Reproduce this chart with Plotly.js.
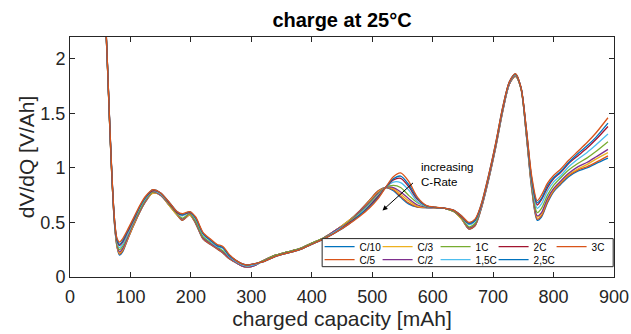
<!DOCTYPE html>
<html>
<head>
<meta charset="utf-8">
<script src="https://cdn.plot.ly/plotly-3.0.1.min.js"></script>
<style>html,body{margin:0;padding:0;background:#fff;}#chart{width:631px;height:334px;}</style>
</head>
<body>
<div id="chart"></div>
<script>
// charged capacity [mAh]
const capacity = [
  57,60,63,66,69,72,75,78,82,87,
  95,105,115,125,137,150,165,177,186,198,
  208,220,232,243,253,263,275,285,293,303,
  320,340,360,380,400,420,440,460,480,495,
  510,522,535,547,560,575,590,605,620,635,
  648,660,670,680,692,704,716,727,737,746,
  755,764,773,780,790,800,812,825,840,855,
  870,890];

const rateLabels = ['C/10','C/5','C/3','C/2','1C','1,5C','2C','2,5C','3C'];
const rateColors = ['#0072BD','#D95319','#EDB120','#7E2F8E','#77AC30','#4DBEEE','#A2142F','#0072BD','#D95319'];
// legend row of each entry (row 1: C/10, C/3, 1C, 2C, 3C; row 2: C/5, C/2, 1,5C, 2,5C)
const legendRow = ['legend','legend2','legend','legend2','legend','legend2','legend','legend2','legend'];

// dV/dQ [V/Ah]
const dvdq_C10 = [
  2.50,2.20,1.78,1.34,0.95,0.62,0.40,0.27,0.20,0.23,
  0.34,0.47,0.59,0.69,0.77,0.75,0.65,0.57,0.52,0.57,
  0.49,0.35,0.30,0.26,0.22,0.17,0.13,0.10,0.09,0.10,
  0.15,0.20,0.23,0.26,0.31,0.36,0.43,0.51,0.61,0.70,
  0.79,0.82,0.79,0.73,0.67,0.64,0.635,0.635,0.63,0.60,
  0.53,0.44,0.47,0.62,0.88,1.18,1.52,1.77,1.84,1.73,
  1.30,0.80,0.52,0.55,0.68,0.78,0.85,0.92,0.97,1.00,
  1.04,1.09];
const dvdq_C5 = [
  2.50,2.20,1.78,1.34,0.95,0.62,0.40,0.27,0.21,0.24,
  0.34,0.47,0.59,0.69,0.77,0.75,0.65,0.57,0.52,0.57,
  0.49,0.35,0.30,0.26,0.22,0.17,0.13,0.10,0.09,0.10,
  0.15,0.20,0.23,0.26,0.31,0.36,0.43,0.51,0.61,0.70,
  0.79,0.82,0.80,0.74,0.68,0.64,0.636,0.635,0.63,0.60,
  0.53,0.44,0.47,0.62,0.88,1.18,1.52,1.77,1.84,1.73,
  1.30,0.81,0.53,0.56,0.69,0.79,0.86,0.93,0.98,1.01,
  1.05,1.11];
const dvdq_C3 = [
  2.50,2.20,1.78,1.34,0.95,0.63,0.41,0.28,0.22,0.25,
  0.35,0.48,0.60,0.70,0.77,0.75,0.65,0.57,0.53,0.57,
  0.50,0.36,0.31,0.27,0.23,0.18,0.13,0.10,0.09,0.10,
  0.15,0.20,0.23,0.26,0.31,0.36,0.43,0.51,0.60,0.69,
  0.78,0.82,0.81,0.76,0.70,0.65,0.638,0.636,0.63,0.60,
  0.53,0.45,0.48,0.63,0.89,1.19,1.53,1.77,1.84,1.73,
  1.31,0.82,0.55,0.58,0.71,0.80,0.87,0.94,0.99,1.03,
  1.08,1.14];
const dvdq_C2 = [
  2.50,2.20,1.78,1.35,0.96,0.63,0.41,0.29,0.23,0.26,
  0.36,0.49,0.60,0.70,0.78,0.75,0.66,0.58,0.53,0.58,
  0.50,0.36,0.31,0.27,0.23,0.18,0.13,0.10,0.09,0.10,
  0.15,0.20,0.23,0.26,0.31,0.36,0.43,0.50,0.60,0.68,
  0.77,0.82,0.82,0.78,0.72,0.66,0.639,0.636,0.63,0.60,
  0.54,0.45,0.48,0.63,0.89,1.19,1.53,1.77,1.845,1.73,
  1.31,0.83,0.56,0.59,0.72,0.81,0.88,0.95,1.01,1.05,
  1.10,1.17];
const dvdq_1C = [
  2.50,2.21,1.79,1.35,0.96,0.64,0.42,0.30,0.25,0.28,
  0.38,0.50,0.61,0.71,0.78,0.76,0.66,0.58,0.54,0.58,
  0.51,0.37,0.32,0.28,0.24,0.19,0.14,0.11,0.10,0.11,
  0.15,0.20,0.23,0.26,0.31,0.36,0.42,0.50,0.59,0.67,
  0.76,0.82,0.84,0.82,0.75,0.68,0.643,0.637,0.63,0.60,
  0.54,0.46,0.49,0.64,0.90,1.20,1.54,1.78,1.85,1.73,
  1.32,0.85,0.59,0.63,0.75,0.84,0.91,0.98,1.04,1.09,
  1.15,1.24];
const dvdq_1_5C = [
  2.50,2.21,1.79,1.36,0.97,0.64,0.43,0.32,0.27,0.30,
  0.39,0.51,0.63,0.72,0.79,0.76,0.67,0.59,0.56,0.59,
  0.53,0.39,0.33,0.28,0.26,0.19,0.14,0.11,0.10,0.11,
  0.14,0.19,0.22,0.25,0.30,0.35,0.42,0.49,0.58,0.66,
  0.75,0.82,0.87,0.865,0.80,0.69,0.647,0.638,0.63,0.61,
  0.55,0.48,0.51,0.64,0.90,1.20,1.54,1.78,1.855,1.74,
  1.34,0.87,0.63,0.67,0.79,0.87,0.93,1.01,1.08,1.14,
  1.21,1.31];
const dvdq_2C = [
  2.50,2.22,1.80,1.36,0.97,0.65,0.44,0.33,0.29,0.32,
  0.41,0.52,0.64,0.73,0.79,0.77,0.67,0.59,0.57,0.59,
  0.54,0.40,0.34,0.29,0.27,0.20,0.15,0.12,0.11,0.12,
  0.14,0.19,0.22,0.25,0.30,0.35,0.41,0.49,0.57,0.65,
  0.74,0.82,0.89,0.905,0.83,0.71,0.651,0.639,0.63,0.61,
  0.55,0.49,0.52,0.65,0.91,1.21,1.55,1.79,1.86,1.74,
  1.35,0.89,0.66,0.71,0.82,0.90,0.96,1.04,1.11,1.18,
  1.26,1.38];
const dvdq_2_5C = [
  2.50,2.22,1.80,1.37,0.98,0.66,0.44,0.34,0.30,0.33,
  0.42,0.53,0.64,0.73,0.80,0.77,0.68,0.60,0.57,0.60,
  0.54,0.40,0.34,0.29,0.27,0.20,0.15,0.12,0.11,0.12,
  0.14,0.19,0.22,0.25,0.30,0.35,0.41,0.48,0.57,0.64,
  0.73,0.82,0.90,0.925,0.85,0.72,0.652,0.639,0.63,0.61,
  0.56,0.49,0.52,0.66,0.92,1.22,1.56,1.79,1.862,1.74,
  1.35,0.90,0.68,0.72,0.84,0.91,0.97,1.05,1.13,1.20,
  1.28,1.41];
const dvdq_3C = [
  2.50,2.22,1.80,1.37,0.98,0.66,0.45,0.35,0.32,0.35,
  0.43,0.54,0.65,0.74,0.80,0.77,0.68,0.60,0.58,0.60,
  0.55,0.41,0.35,0.30,0.28,0.21,0.15,0.12,0.11,0.12,
  0.14,0.19,0.22,0.25,0.30,0.35,0.41,0.48,0.56,0.63,
  0.72,0.82,0.92,0.955,0.88,0.73,0.655,0.64,0.63,0.61,
  0.56,0.50,0.53,0.66,0.92,1.22,1.56,1.79,1.865,1.74,
  1.36,0.92,0.70,0.75,0.86,0.93,0.99,1.07,1.15,1.23,
  1.32,1.46];

const series = [dvdq_C10, dvdq_C5, dvdq_C3, dvdq_C2, dvdq_1C, dvdq_1_5C, dvdq_2C, dvdq_2_5C, dvdq_3C];

const FONT = 'Liberation Sans, Arial, Helvetica, sans-serif';
const TXT = '#262626';

const traces = series.map((ys, i) => {
  const t = {
    type: 'scatter',
    mode: 'lines',
    x: capacity,
    y: ys,
    name: rateLabels[i],
    legend: legendRow[i],
    line: {color: rateColors[i], width: 1.3, shape: 'spline', smoothing: 0.8},
    hoverinfo: 'x+y+name'
  };
  // last entry of the second legend row gets room for its full label
  if (i === 7) t.legendwidth = 28;
  return t;
});

const axisCommon = {
  showline: true, linecolor: TXT, linewidth: 1, mirror: 'allticks',
  ticks: 'inside', ticklen: 5, tickwidth: 1, tickcolor: TXT,
  showgrid: false, zeroline: false,
  tickfont: {family: FONT, size: 18, color: TXT}
};

const legendCommon = {
  orientation: 'h',
  xanchor: 'left', yanchor: 'top',
  bgcolor: 'rgba(0,0,0,0)', borderwidth: 0,
  font: {family: FONT, size: 10, color: '#000000'},
  entrywidth: 13, entrywidthmode: 'pixels',
  itemwidth: 30
};

const layout = {
  width: 631, height: 334,
  margin: {l: 70, r: 17, t: 37, b: 57},
  paper_bgcolor: '#ffffff', plot_bgcolor: '#ffffff',
  font: {family: FONT, color: TXT},
  showlegend: true,
  title: {
    text: 'charge at 25°C',
    font: {family: FONT, size: 20, color: '#000000', weight: 'bold'},
    x: 0.5, xref: 'paper', xanchor: 'center',
    y: 1 - 20 / 334, yref: 'container', yanchor: 'middle'
  },
  xaxis: Object.assign({}, axisCommon, {
    range: [0, 900], dtick: 100, tick0: 0,
    ticklabelstandoff: 3,
    title: {text: 'charged capacity [mAh]', font: {family: FONT, size: 21, color: TXT}, standoff: 3}
  }),
  yaxis: Object.assign({}, axisCommon, {
    range: [0, 2.2], dtick: 0.5, tick0: 0,
    ticklabelstandoff: 0,
    title: {text: 'dV/dQ [V/Ah]', font: {family: FONT, size: 21, color: TXT}, standoff: 0}
  }),
  legend: Object.assign({}, legendCommon, {x: 0.4588, y: 0.1867}),
  legend2: Object.assign({}, legendCommon, {x: 0.4588, y: 0.1325}),
  shapes: [
    {
      type: 'rect', xref: 'paper', yref: 'paper', layer: 'above',
      x0: 0.4635, x1: 0.9985, y0: 0.043, y1: 0.16,
      fillcolor: '#ffffff', line: {color: TXT, width: 1}
    }
  ],
  annotations: [
    {
      x: 517, y: 0.61, xref: 'x', yref: 'y',
      ax: 570, ay: 0.875, axref: 'x', ayref: 'y',
      text: '', showarrow: true,
      arrowhead: 2, arrowsize: 1, arrowwidth: 1, arrowcolor: '#000000'
    },
    {
      x: 577, y: 0.94, xref: 'x', yref: 'y',
      xanchor: 'left', yanchor: 'middle', align: 'left',
      text: 'increasing<br>C-Rate', showarrow: false,
      font: {family: FONT, size: 11.5, color: '#000000'}
    }
  ]
};

Plotly.newPlot('chart', traces, layout, {displayModeBar: false, staticPlot: true});
</script>
</body>
</html>
